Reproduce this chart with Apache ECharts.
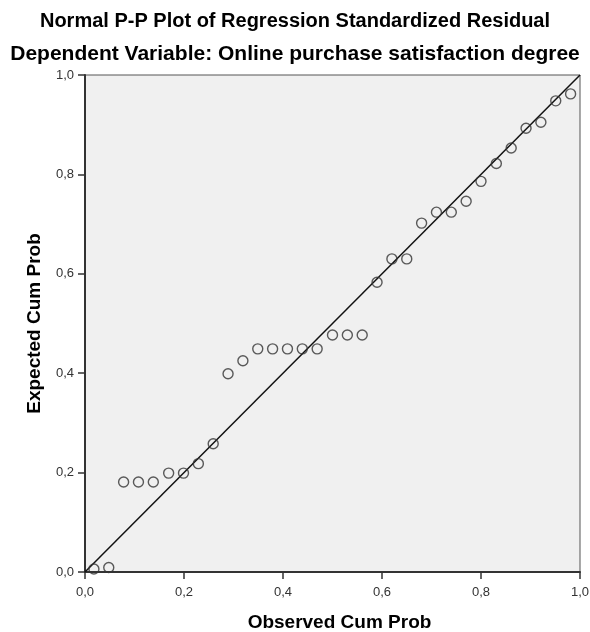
<!DOCTYPE html>
<html>
<head>
<meta charset="utf-8">
<script src="https://cdn.jsdelivr.net/npm/echarts@6/dist/echarts.min.js"></script>
<style>
  html, body { margin: 0; padding: 0; background: #fff; }
  #chart { width: 590px; height: 632px; }
</style>
</head>
<body>
<div id="chart"></div>
<script>
// observed cumulative probability (x) and expected cumulative probability (y)
const observed = [0.018, 0.048, 0.078, 0.108, 0.138, 0.169, 0.199, 0.229, 0.259, 0.289, 0.319,
  0.349, 0.379, 0.409, 0.439, 0.469, 0.500, 0.530, 0.560, 0.590, 0.620, 0.650,
  0.680, 0.710, 0.740, 0.770, 0.800, 0.831, 0.861, 0.891, 0.921, 0.951, 0.981]
const expected = [0.006, 0.009, 0.181, 0.181, 0.181, 0.199, 0.199, 0.218, 0.258, 0.399, 0.425,
  0.449, 0.449, 0.449, 0.449, 0.449, 0.477, 0.477, 0.477, 0.583, 0.630, 0.630,
  0.702, 0.724, 0.724, 0.746, 0.786, 0.822, 0.853, 0.893, 0.905, 0.948, 0.962]
const refLine = [0, 1]
const titleText = 'Normal P-P Plot of Regression Standardized Residual'
const subText = 'Dependent Variable: Online purchase satisfaction degree'

const fmt = v => v.toFixed(1).replace('.', ',')
const font = 'Liberation Sans, Arial, sans-serif'

const chart = echarts.init(document.getElementById('chart'))
chart.setOption({
  backgroundColor: '#fff',
  animation: false,
  title: [
    {
      text: titleText,
      left: 'center',
      top: 6,
      textStyle: { fontFamily: font, fontSize: 20, fontWeight: 'bold', color: '#000' }
    },
    {
      text: subText,
      left: 'center',
      top: 39,
      textStyle: { fontFamily: font, fontSize: 21, fontWeight: 'bold', color: '#000' }
    }
  ],
  grid: {
    left: 85,
    right: 10,
    top: 75,
    bottom: 60,
    outerBoundsMode: 'none',
    show: true,
    backgroundColor: '#f0f0f0',
    borderColor: '#555',
    borderWidth: 1
  },
  xAxis: {
    type: 'value',
    min: 0,
    max: 1,
    interval: 0.2,
    name: 'Observed Cum Prob',
    nameLocation: 'middle',
    nameGap: 41,
    nameTextStyle: { fontFamily: font, fontSize: 19, fontWeight: 'bold', color: '#000', padding: [0, 0, 0, 14] },
    axisLine: { show: true, lineStyle: { color: '#333', width: 2 } },
    axisTick: { show: true, length: 7, lineStyle: { color: '#333', width: 1.5 } },
    axisLabel: { formatter: fmt, fontFamily: font, fontSize: 13, color: '#333', margin: 14 },
    splitLine: { show: false }
  },
  yAxis: {
    type: 'value',
    min: 0,
    max: 1,
    interval: 0.2,
    name: 'Expected Cum Prob',
    nameLocation: 'middle',
    nameGap: 41,
    nameTextStyle: { fontFamily: font, fontSize: 19, fontWeight: 'bold', color: '#000' },
    axisLine: { show: true, lineStyle: { color: '#333', width: 2 } },
    axisTick: { show: true, length: 7, lineStyle: { color: '#333', width: 1.5 } },
    axisLabel: { formatter: fmt, fontFamily: font, fontSize: 13, color: '#333', margin: 11 },
    splitLine: { show: false }
  },
  series: [
    {
      type: 'line',
      data: refLine.map(v => [v, v]),
      showSymbol: false,
      lineStyle: { color: '#111', width: 1.5 },
      z: 2
    },
    {
      type: 'scatter',
      data: observed.map((x, i) => [x, expected[i]]),
      symbol: 'circle',
      symbolSize: 10,
      itemStyle: { color: 'rgba(0,0,0,0)', borderColor: '#333', borderWidth: 1.4 },
      z: 3
    }
  ]
})
</script>
</body>
</html>
